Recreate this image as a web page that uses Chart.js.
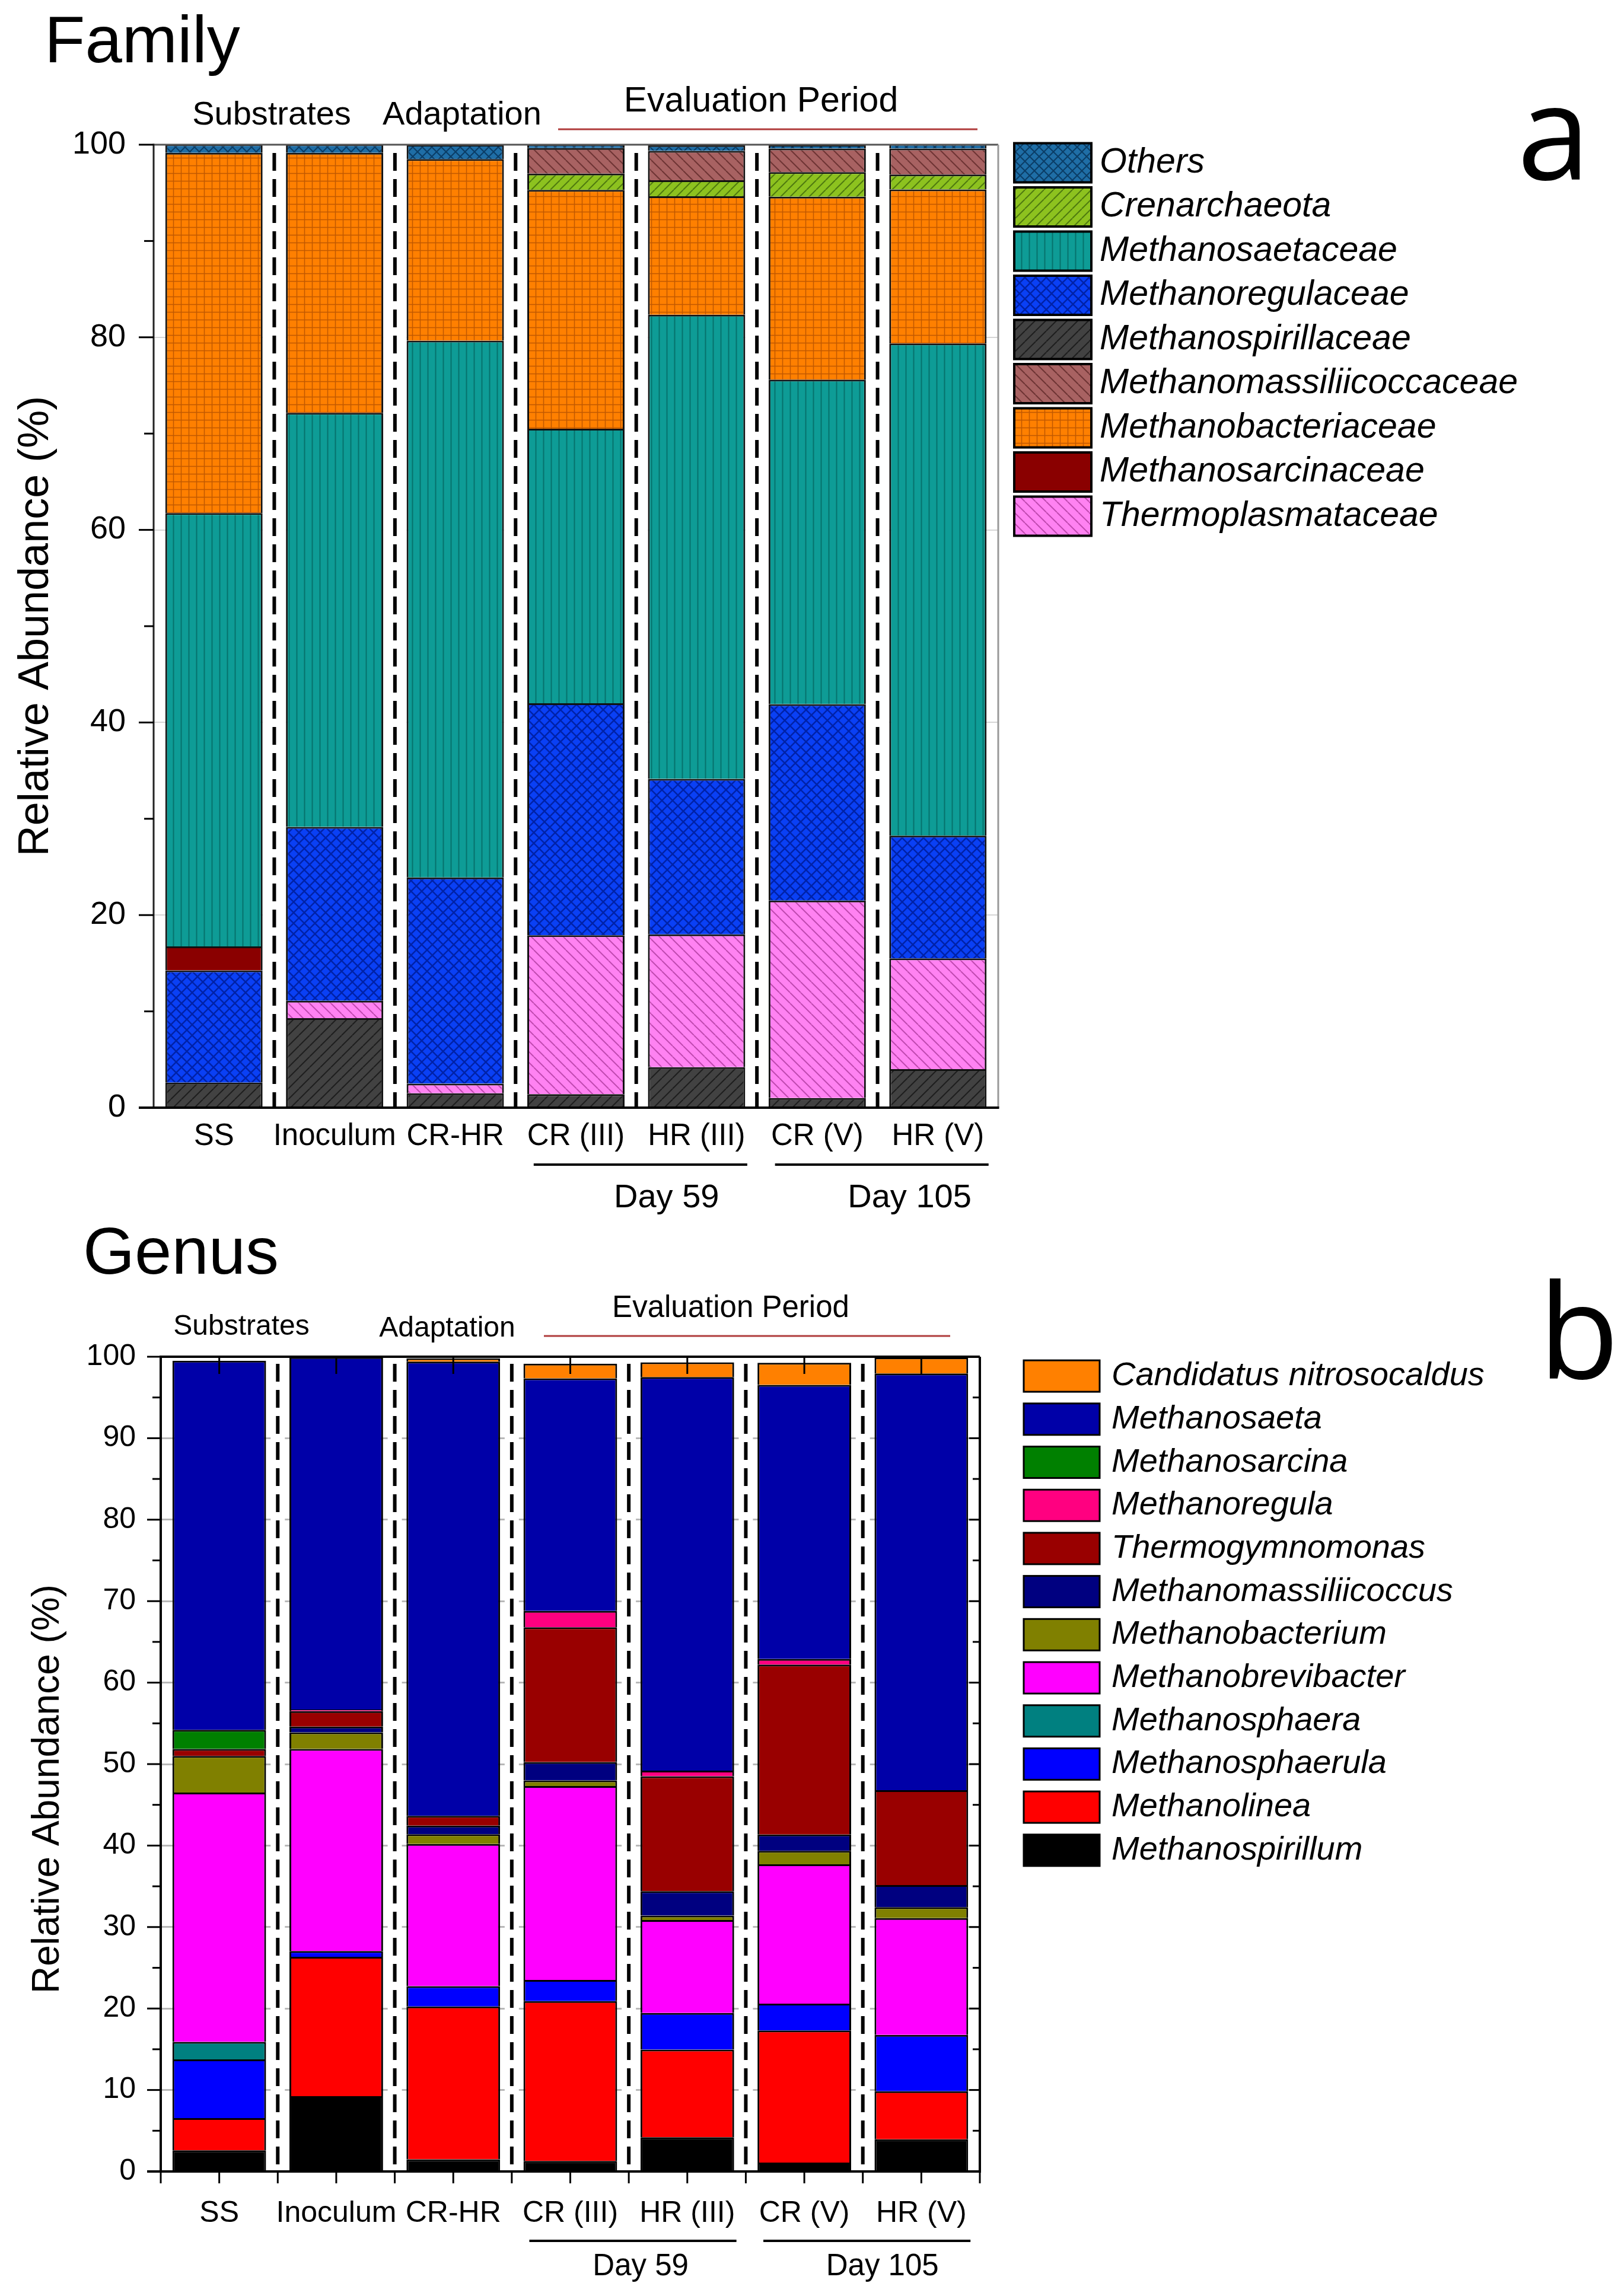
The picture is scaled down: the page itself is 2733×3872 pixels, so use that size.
<!DOCTYPE html>
<html><head><meta charset="utf-8">
<script src="https://cdn.jsdelivr.net/npm/chart.js@4.4.1/dist/chart.umd.min.js"></script>
<style>
html,body{margin:0;padding:0;background:#fff;}
body{width:2733px;height:3872px;position:relative;overflow:hidden;}
canvas{position:absolute;left:0;}
#ca{top:0;width:2733px;height:2060px;}
#cb{top:2060px;width:2733px;height:1812px;}
</style></head><body>
<canvas id="ca" width="2733" height="2060"></canvas>
<canvas id="cb" width="2733" height="1812"></canvas>
<script>
const categories = ['SS','Inoculum','CR-HR','CR (III)','HR (III)','CR (V)','HR (V)'];
const yTicksFamily = [0,20,40,60,80,100];
const yTicksGenus = [0,10,20,30,40,50,60,70,80,90,100];

// ---- Family (panel a), stack order bottom -> top ----
const methanospirillaceae      = [2.6, 9.3, 1.5, 1.4, 4.2, 1.0, 4.0];
const thermoplasmataceae       = [0, 1.8, 1.0, 16.5, 13.8, 20.5, 11.5];
const methanoregulaceae        = [11.65, 18.05, 21.4, 24.1, 16.15, 20.4, 12.75];
const methanosarcinaceae       = [2.5, 0, 0, 0, 0, 0, 0];
const methanosaetaceae         = [45.0, 43.0, 55.75, 28.5, 48.2, 33.7, 51.1];
const methanobacteriaceae      = [37.4, 27.0, 18.85, 24.8, 12.3, 19.0, 16.0];
const crenarchaeota            = [0, 0, 0, 1.7, 1.65, 2.55, 1.55];
const methanomassiliicoccaceae = [0, 0, 0, 2.65, 3.05, 2.45, 2.7];
const othersFamily             = [0.9, 0.9, 1.5, 0.4, 0.6, 0.4, 0.5];
const familyLegendOrder = ['Others','Crenarchaeota','Methanosaetaceae','Methanoregulaceae','Methanospirillaceae','Methanomassiliicoccaceae','Methanobacteriaceae','Methanosarcinaceae','Thermoplasmataceae'];

// ---- Genus (panel b), stack order bottom -> top ----
const methanospirillum      = [2.6, 9.25, 1.5, 1.3, 4.2, 1.1, 3.95];
const methanolinea          = [3.95, 17.1, 18.75, 19.6, 10.75, 16.2, 5.9];
const methanosphaerula      = [7.2, 0.7, 2.5, 2.6, 4.5, 3.3, 6.9];
const methanosphaera        = [2.15, 0, 0, 0, 0, 0, 0];
const methanobrevibacter    = [30.6, 24.8, 17.45, 23.8, 11.4, 17.1, 14.35];
const methanobacterium      = [4.5, 2.05, 1.2, 0.7, 0.55, 1.65, 1.35];
const methanomassiliicoccus = [0, 0.7, 1.05, 2.25, 3.0, 2.0, 2.7];
const thermogymnomonas      = [0.85, 1.9, 1.2, 16.55, 14.1, 20.85, 11.65];
const methanoregula         = [0, 0.2, 0, 2.0, 0.7, 0.7, 0];
const methanosarcina        = [2.35, 0, 0, 0, 0, 0, 0];
const methanosaeta          = [45.3, 43.25, 55.75, 28.55, 48.3, 33.65, 51.15];
const candidatusNitrosocaldus = [0, 0, 0.4, 1.8, 1.8, 2.7, 1.95];
const genusLegendOrder = ['Candidatus nitrosocaldus','Methanosaeta','Methanosarcina','Methanoregula','Thermogymnomonas','Methanomassiliicoccus','Methanobacterium','Methanobrevibacter','Methanosphaera','Methanosphaerula','Methanolinea','Methanospirillum'];

const SANS = '"Liberation Sans", Arial, sans-serif';
const LETTER = '"Open Sans", "Noto Sans", sans-serif';

const ctxA = document.getElementById('ca').getContext('2d');
const ctxB = document.getElementById('cb').getContext('2d');

function pattern(ctx, bg, fg, kind, s, lw) {
  const c = document.createElement('canvas'); c.width = s; c.height = s;
  const g = c.getContext('2d');
  g.fillStyle = bg; g.fillRect(0, 0, s, s);
  g.strokeStyle = fg; g.lineWidth = lw;
  g.beginPath();
  if (kind.includes('v')) { g.moveTo(s/2, 0); g.lineTo(s/2, s); }
  if (kind.includes('h')) { g.moveTo(0, s/2); g.lineTo(s, s/2); }
  if (kind.includes('/') || kind.includes('x')) {
    for (const k of [-s, 0, s]) { g.moveTo(k, s); g.lineTo(k + s, 0); }
  }
  if (kind.includes('\\') || kind.includes('x')) {
    for (const k of [-s, 0, s]) { g.moveTo(k, 0); g.lineTo(k + s, s); }
  }
  g.stroke();
  return ctx.createPattern(c, 'repeat');
}
const nz = arr => arr.map(v => v === 0 ? null : v);

function ds(label, data, color, border, bw) {
  return { label, data: nz(data), backgroundColor: color, borderColor: border, borderWidth: bw,
           borderSkipped: 'start', barPercentage: 0.806, categoryPercentage: 1.0 };
}

const familyDatasets = [
  ds('Methanospirillaceae', methanospirillaceae, pattern(ctxA, '#424242', '#1e1e1e', '/', 18, 2), '#111', 3),
  ds('Thermoplasmataceae', thermoplasmataceae, pattern(ctxA, '#ff82f2', '#c04ab0', '\\', 18, 2), '#111', 3),
  ds('Methanoregulaceae', methanoregulaceae, pattern(ctxA, '#0a40f5', '#0022a8', 'x', 18, 2.5), '#111', 3),
  ds('Methanosarcinaceae', methanosarcinaceae, '#8a0000', '#111', 3),
  ds('Methanosaetaceae', methanosaetaceae, pattern(ctxA, '#0e9c96', '#06726d', 'v', 13, 2), '#111', 3),
  ds('Methanobacteriaceae', methanobacteriaceae, pattern(ctxA, '#ff8000', '#c05800', 'vh', 13, 1.5), '#111', 3),
  ds('Crenarchaeota', crenarchaeota, pattern(ctxA, '#8dc21f', '#4f7a10', '/', 16, 2), '#111', 3),
  ds('Methanomassiliicoccaceae', methanomassiliicoccaceae, pattern(ctxA, '#a86262', '#6e3434', '\\', 18, 2), '#111', 3),
  ds('Others', othersFamily, pattern(ctxA, '#1f6ea6', '#0b3d66', 'x', 16, 2), '#111', 3)
];

function gds(label, data, color) {
  const d = ds(label, data, color, '#000', 3);
  d.barPercentage = 0.8;
  return d;
}
const genusDatasets = [
  gds('Methanospirillum', methanospirillum, '#000000'),
  gds('Methanolinea', methanolinea, '#ff0000'),
  gds('Methanosphaerula', methanosphaerula, '#0000ff'),
  gds('Methanosphaera', methanosphaera, '#008080'),
  gds('Methanobrevibacter', methanobrevibacter, '#ff00ff'),
  gds('Methanobacterium', methanobacterium, '#808000'),
  gds('Methanomassiliicoccus', methanomassiliicoccus, '#000080'),
  gds('Thermogymnomonas', thermogymnomonas, '#990000'),
  gds('Methanoregula', methanoregula, '#ff0080'),
  gds('Methanosarcina', methanosarcina, '#008000'),
  gds('Methanosaeta', methanosaeta, '#0000a8'),
  gds('Candidatus nitrosocaldus', candidatusNitrosocaldus, '#ff8000')
];

const deco = {
  id: 'deco',
  beforeDatasetsDraw(chart, args, o) {
    const { ctx, chartArea: a, scales: { x } } = chart;
    const n = chart.data.labels.length;
    const cw = x.getPixelForValue(1) - x.getPixelForValue(0);
    ctx.save();
    ctx.fillStyle = '#fff';
    for (let i = 1; i < n; i++) {
      const bx = (x.getPixelForValue(i - 1) + x.getPixelForValue(i)) / 2;
      const w = o.gap === 'full' ? cw * (1 - o.barPct) : o.gap;
      ctx.fillRect(bx - w / 2, a.top + 2, w, a.bottom - a.top - 4);
    }
    ctx.strokeStyle = '#000'; ctx.lineWidth = o.dashW; ctx.setLineDash(o.dash);
    for (let i = 1; i < n; i++) {
      const bx = (x.getPixelForValue(i - 1) + x.getPixelForValue(i)) / 2;
      ctx.beginPath(); ctx.moveTo(bx, a.top + o.dashInset); ctx.lineTo(bx, a.bottom); ctx.stroke();
    }
    ctx.restore();
  },
  afterDatasetsDraw(chart, args, o) {
    const { ctx, chartArea: a, scales: { x, y } } = chart;
    const n = chart.data.labels.length;
    const cw = x.getPixelForValue(1) - x.getPixelForValue(0);
    ctx.save();
    ctx.setLineDash([]);
    // frame
    const f = o.frame;
    ctx.lineWidth = f.width;
    ctx.strokeStyle = f.top; ctx.beginPath(); ctx.moveTo(a.left, a.top); ctx.lineTo(a.right, a.top); ctx.stroke();
    ctx.strokeStyle = f.right; ctx.beginPath(); ctx.moveTo(a.right, a.top); ctx.lineTo(a.right, a.bottom); ctx.stroke();
    ctx.strokeStyle = f.left; ctx.beginPath(); ctx.moveTo(a.left, a.top - f.width/2); ctx.lineTo(a.left, a.bottom); ctx.stroke();
    ctx.strokeStyle = f.bottom; ctx.lineWidth = f.bottomWidth;
    ctx.beginPath(); ctx.moveTo(a.left - o.yTicks.majorLen, a.bottom); ctx.lineTo(a.right + f.width/2, a.bottom); ctx.stroke();
    // left y ticks (outward)
    ctx.strokeStyle = '#000'; ctx.lineWidth = o.yTicks.width;
    y.ticks.forEach(t => {
      const py = y.getPixelForValue(t.value);
      const len = t.value % o.yTicks.major === 0 ? o.yTicks.majorLen : o.yTicks.minorLen;
      ctx.beginPath(); ctx.moveTo(a.left - len, py); ctx.lineTo(a.left, py); ctx.stroke();
      if (o.rightTicks) {
        const rl = t.value % o.yTicks.major === 0 ? o.rightTicks.majorLen : o.rightTicks.minorLen;
        ctx.beginPath(); ctx.moveTo(a.right - rl, py); ctx.lineTo(a.right, py); ctx.stroke();
      }
    });
    if (o.topTicks) {
      for (let i = 0; i < n; i++) {
        const px = x.getPixelForValue(i);
        ctx.beginPath(); ctx.moveTo(px, a.top); ctx.lineTo(px, a.top + o.topTicks.len); ctx.stroke();
      }
    }
    if (o.bottomTicks) {
      for (let i = 0; i < n; i++) {
        const px = x.getPixelForValue(i);
        for (const q of [px - cw / 2, px]) {
          ctx.beginPath(); ctx.moveTo(q, a.bottom); ctx.lineTo(q, a.bottom + o.bottomTicks.len); ctx.stroke();
        }
      }
      const pe = x.getPixelForValue(n - 1) + cw / 2;
      ctx.beginPath(); ctx.moveTo(pe, a.bottom); ctx.lineTo(pe, a.bottom + o.bottomTicks.len); ctx.stroke();
    }
    ctx.restore();
  },
  afterDraw(chart, args, o) {
    const { ctx, scales: { x } } = chart;
    const cw = x.getPixelForValue(1) - x.getPixelForValue(0);
    ctx.save();
    ctx.fillStyle = '#000';
    // lines
    (o.lines || []).forEach(l => {
      ctx.strokeStyle = l.color; ctx.lineWidth = l.width;
      ctx.beginPath(); ctx.moveTo(l.x1, l.y); ctx.lineTo(l.x2, l.y); ctx.stroke();
    });
    // texts
    (o.texts || []).forEach(t => {
      ctx.save();
      ctx.font = `${t.style || ''} ${t.size}px ${t.family || SANS}`;
      ctx.textAlign = t.align || 'center';
      ctx.textBaseline = t.base || 'alphabetic';
      ctx.translate(t.x, t.y);
      if (t.rot) ctx.rotate(t.rot);
      ctx.fillText(t.t, 0, 0);
      ctx.restore();
    });
    // groups
    (o.groups || []).forEach(g => {
      const c1 = x.getPixelForValue(g.from), c2 = x.getPixelForValue(g.to);
      ctx.strokeStyle = '#000'; ctx.lineWidth = 4;
      ctx.beginPath(); ctx.moveTo(c1 - 0.35 * cw, o.groupLineY); ctx.lineTo(c2 + 0.42 * cw, o.groupLineY); ctx.stroke();
      ctx.font = `${o.groupSize}px ${SANS}`;
      ctx.textAlign = 'center'; ctx.textBaseline = 'alphabetic';
      ctx.fillText(g.label, (c1 + c2) / 2 + g.dx, o.groupTextY);
    });
    // legend
    const L = o.legend;
    L.order.forEach((name, k) => {
      const d = chart.data.datasets.find(s => s.label === name);
      const cy = L.firstCenter + k * L.step;
      ctx.fillStyle = d.backgroundColor;
      ctx.fillRect(L.x, cy - L.h / 2, L.w, L.h);
      ctx.strokeStyle = '#000'; ctx.lineWidth = L.border;
      ctx.strokeRect(L.x, cy - L.h / 2, L.w, L.h);
      ctx.fillStyle = '#000';
      ctx.font = `italic ${L.size}px ${SANS}`;
      ctx.textAlign = 'left'; ctx.textBaseline = 'middle';
      ctx.fillText(name, L.textX, cy);
    });
    ctx.restore();
  }
};

function baseOptions(p) {
  return {
    responsive: false, animation: false, devicePixelRatio: 1,
    layout: { padding: { left: 0, top: p.top, right: p.right, bottom: 0 } },
    plugins: { legend: { display: false }, tooltip: { enabled: false }, deco: p.deco },
    scales: {
      x: {
        stacked: true,
        grid: { display: false, drawTicks: false },
        border: { display: false },
        ticks: { font: { family: SANS, size: p.xFont }, color: '#000', padding: p.xPad, autoSkip: false, maxRotation: 0, minRotation: 0 },
        afterFit: s => { s.height = p.xHeight; }
      },
      y: {
        stacked: true, min: 0, max: 100,
        afterBuildTicks: s => { s.ticks = p.allTicks.map(v => ({ value: v })); },
        ticks: { autoSkip: false, callback: v => (p.labels.includes(v) ? String(v) : ''), font: { family: SANS, size: p.yFont }, color: '#000', padding: p.yPad },
        grid: { drawTicks: false, color: c => (c.tick && p.labels.includes(c.tick.value) && c.tick.value > 0 && c.tick.value < 100) ? p.gridColor : 'rgba(0,0,0,0)', lineWidth: p.gridW },
        border: { display: false },
        afterFit: s => { s.width = p.yWidth; }
      }
    }
  };
}

const minorA = [0,10,20,30,40,50,60,70,80,90,100];
const minorB = [0,5,10,15,20,25,30,35,40,45,50,55,60,65,70,75,80,85,90,95,100];

new Chart(ctxA, {
  type: 'bar',
  data: { labels: categories, datasets: familyDatasets },
  options: baseOptions({
    top: 244, right: 1050, xHeight: 192, yWidth: 259, xFont: 51, xPad: 18, yFont: 54, yPad: 47,
    labels: yTicksFamily, allTicks: minorA, gridColor: '#d6d6d6', gridW: 2,
    deco: {
      gap: 'full', barPct: 0.806, dashW: 6, dash: [30, 14], dashInset: 14,
      frame: { width: 3, top: '#555', right: '#999', left: '#222', bottom: '#000', bottomWidth: 4 },
      yTicks: { major: 20, majorLen: 25, minorLen: 16, width: 3 },
      texts: [
        { t: 'Family', x: 75, y: 105, size: 112, align: 'left' },
        { t: 'a', x: 2558, y: 303, size: 222, align: 'left', family: LETTER },
        { t: 'Substrates', x: 458, y: 210, size: 56 },
        { t: 'Adaptation', x: 779, y: 210, size: 56 },
        { t: 'Evaluation Period', x: 1283, y: 188, size: 59 },
        { t: 'Relative Abundance (%)', x: 61, y: 1056, size: 72, base: 'middle', rot: -Math.PI / 2 }
      ],
      lines: [ { x1: 941, x2: 1648, y: 218, color: '#b03c3c', width: 3 } ],
      groups: [ { from: 3, to: 4, label: 'Day 59', dx: 51 }, { from: 5, to: 6, label: 'Day 105', dx: 54 } ],
      groupLineY: 1964, groupTextY: 2036, groupSize: 56,
      legend: { order: familyLegendOrder, x: 1710, w: 130, h: 66, firstCenter: 274.5, step: 74.5, textX: 1854, size: 59, border: 4 }
    }
  }),
  plugins: [deco]
});

new Chart(ctxB, {
  type: 'bar',
  data: { labels: categories, datasets: genusDatasets },
  options: baseOptions({
    top: 228, right: 1081, xHeight: 210, yWidth: 271, xFont: 50, xPad: 41, yFont: 50, yPad: 42,
    labels: yTicksGenus, allTicks: minorB, gridColor: '#b8b8b8', gridW: 3,
    deco: {
      gap: 24, barPct: 0.8, dashW: 6, dash: [30, 14], dashInset: 12,
      frame: { width: 4, top: '#000', right: '#000', left: '#000', bottom: '#000', bottomWidth: 4 },
      yTicks: { major: 10, majorLen: 23, minorLen: 14, width: 3 },
      rightTicks: { majorLen: 18, minorLen: 12 },
      topTicks: { len: 29 },
      bottomTicks: { len: 20 },
      texts: [
        { t: 'Genus', x: 140, y: 88, size: 112, align: 'left' },
        { t: 'b', x: 2594, y: 265, size: 222, align: 'left', family: LETTER },
        { t: 'Substrates', x: 407, y: 191, size: 48 },
        { t: 'Adaptation', x: 754, y: 194, size: 48 },
        { t: 'Evaluation Period', x: 1232, y: 161, size: 51 },
        { t: 'Relative Abundance (%)', x: 81, y: 957, size: 64, base: 'middle', rot: -Math.PI / 2 }
      ],
      lines: [ { x1: 917, x2: 1602, y: 193, color: '#b03c3c', width: 3 } ],
      groups: [ { from: 3, to: 4, label: 'Day 59', dx: 20 }, { from: 5, to: 6, label: 'Day 105', dx: 33 } ],
      groupLineY: 1719, groupTextY: 1777, groupSize: 51,
      legend: { order: genusLegendOrder, x: 1726, w: 128, h: 53, firstCenter: 260.6, step: 72.7, textX: 1874, size: 56, border: 3 }
    }
  }),
  plugins: [deco]
});
</script>
</body></html>
